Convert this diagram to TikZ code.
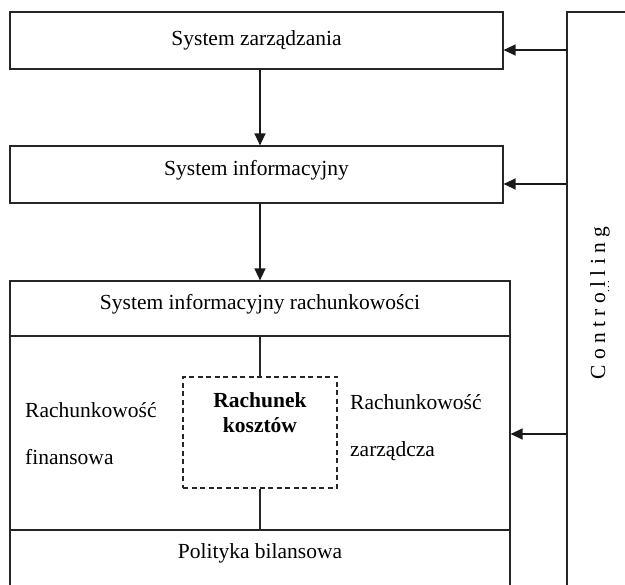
\documentclass[tikz,border=0pt]{standalone}
\usepackage{fontspec}
\setmainfont{Liberation Serif}
\usetikzlibrary{arrows.meta}
\begin{document}
\begin{tikzpicture}[x=1pt,y=-1pt,
  every node/.style={font=\fontsize{21.5}{25}\selectfont},
  box/.style={draw,line width=1.2pt,rectangle,inner sep=0pt,draw=black!85},
  arr/.style={line width=1.3pt,draw=black!90,-{Triangle[length=12pt,width=11pt]}},
  ln/.style={line width=1.2pt,draw=black!85},
  txt/.style={inner sep=0pt}]
\useasboundingbox (0,0) rectangle (625,585);
\clip (0,0) rectangle (625,585);
% boxes
\node[box,minimum width=493pt,minimum height=57pt] (b1) at (256.5,40.5) {};
\node[txt] at (b1.center) {System zarządzania};
\node[box,minimum width=493pt,minimum height=57pt] (b2) at (256.5,174.5) {};
\node[txt] at (256.5,170) {System informacyjny};
\node[box,minimum width=500pt,minimum height=55pt] (b3) at (260,308.5) {};
\node[txt] at (260,304) {System informacyjny rachunkowości};
\node[box,minimum width=500pt,minimum height=194pt] (mid) at (260,433) {};
\node[box,minimum width=500pt,minimum height=70pt] (bot) at (260,565) {};
\node[txt] at (260,553) {Polityka bilansowa};
% controlling
\node[box,minimum width=80pt,minimum height=600pt] (ctrl) at (607,312) {};
\node[txt,rotate=90,anchor=base] at (605,303) {C o n t r o l l i n g};
\node[txt,rotate=90,anchor=base,font=\fontsize{11}{12}\selectfont] at (609,287) {.\,.\,.};
% dashed box
\node[draw,line width=1.1pt,draw=black!85,dash pattern=on 5pt off 3.5pt,minimum width=154pt,minimum height=111pt,inner sep=0pt] (rk) at (260,432.5) {};
\node[txt,anchor=base,font=\fontsize{21.5}{25}\selectfont\bfseries] at (260,408) {Rachunek};
\node[txt,anchor=base,font=\fontsize{21.5}{25}\selectfont\bfseries] at (260,433) {kosztów};
\node[txt,anchor=base west] at (25,418) {Rachunkowość};
\node[txt,anchor=base west] at (25,465) {finansowa};
\node[txt,anchor=base west] at (350,410) {Rachunkowość};
\node[txt,anchor=base west] at (350,457) {zarządcza};
% connectors
\draw[ln] (mid.north -| rk.north) -- (rk.north);
\draw[ln] (rk.south) -- (bot.north -| rk.south);
\draw[arr] (b1.south -| 260,0) -- (b2.north -| 260,0);
\draw[arr] (b2.south -| 260,0) -- (b3.north -| 260,0);
\coordinate (c1) at (567,50);
\coordinate (c2) at (567,184);
\coordinate (c3) at (567,434);
\draw[arr] (c1) -- (b1.east |- c1);
\draw[arr] (c2) -- (b2.east |- c2);
\draw[arr] (c3) -- (mid.east |- c3);
\end{tikzpicture}
\end{document}
